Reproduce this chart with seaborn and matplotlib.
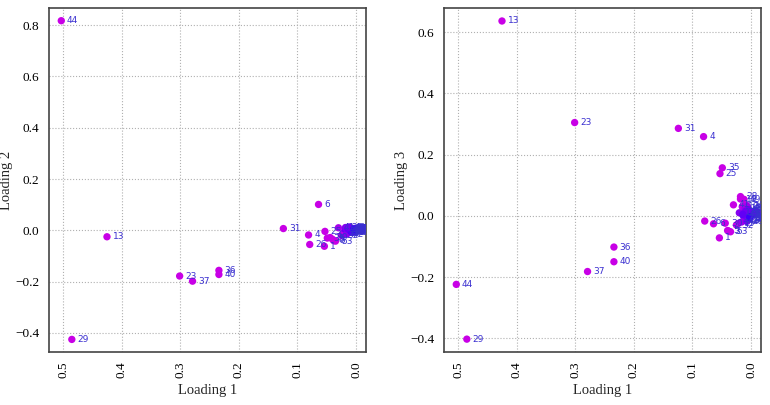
import numpy as np
import pandas as pd
import matplotlib
matplotlib.use("Agg")
import matplotlib.pyplot as plt
import seaborn as sns

# variable ids and loadings (cluster near 0 estimated)
ids = [1, 2, 3, 4, 5, 6, 7, 8, 9, 10, 11, 12, 13, 14, 15, 16, 17, 18, 19, 20,
       21, 22, 23, 24, 25, 26, 27, 28, 29, 30, 31, 32, 33, 34, 35, 36, 37, 38,
       39, 40, 41, 42, 43, 44, 45, 46, 47, 48, 49, 50, 51, 52, 53, 54, 55]
loading1 = [0.054, 0.012, 0.038, 0.081, 0.040, 0.064, 0.006, 0.009, 0.004, 0.015,
            0.002, 0.020, 0.425, 0.007, 0.022, 0.003, 0.010, 0.001, 0.018, 0.005,
            0.013, -0.002, 0.301, 0.008, 0.053, 0.079, 0.011, 0.018, 0.485, 0.044,
            0.124, 0.025, 0.000, 0.006, 0.049, 0.234, 0.279, 0.003, -0.004, 0.234,
            0.030, 0.016, 0.009, 0.503, -0.006, 0.001, 0.014, 0.007, 0.012, -0.008,
            0.004, -0.010, 0.035, 0.002, -0.005]
loading2 = [-0.062, 0.004, -0.040, -0.018, -0.035, 0.101, 0.002, -0.006, 0.001, -0.010,
            0.003, -0.005, -0.025, -0.002, -0.012, 0.005, 0.008, -0.001, 0.002, 0.004,
            -0.008, 0.006, -0.178, 0.009, -0.004, -0.055, 0.001, 0.011, -0.425, -0.028,
            0.007, -0.020, 0.002, 0.007, -0.030, -0.156, -0.198, -0.004, 0.003, -0.172,
            0.010, -0.015, -0.003, 0.817, 0.004, 0.008, 0.006, -0.008, 0.013, 0.002,
            0.006, 0.001, -0.042, -0.002, 0.005]
loading3 = [-0.072, 0.010, -0.050, 0.259, -0.048, -0.026, 0.005, 0.018, -0.004, 0.030,
            0.012, 0.010, 0.637, -0.015, -0.025, 0.002, 0.025, 0.006, 0.055, -0.008,
            0.000, 0.008, 0.305, 0.035, 0.138, -0.017, -0.012, 0.063, -0.403, -0.024,
            0.286, -0.030, 0.003, 0.030, 0.157, -0.102, -0.182, -0.010, 0.004, -0.150,
            0.036, -0.020, 0.015, -0.224, 0.010, -0.002, 0.005, -0.018, 0.054, 0.006,
            0.020, 0.012, -0.052, -0.006, 0.015]

df = pd.DataFrame({"id": ids, "Loading 1": loading1,
                   "Loading 2": loading2, "Loading 3": loading3})

sns.set_style("white")
plt.rcParams["font.family"] = ["Liberation Serif", "DejaVu Serif"]

cmap = sns.blend_palette(["#2200ff", "#c800e6"], as_cmap=True)

fig = plt.figure(figsize=(7.7, 4.05), dpi=100)
ax1 = fig.add_axes([0.0636, 0.1309, 0.4117, 0.849])
ax2 = fig.add_axes([0.5766, 0.1309, 0.4117, 0.849])


def panel(ax, ycol, ylim, yticks):
    d = df.copy()
    d["dist"] = np.abs(d["Loading 1"]) + np.abs(d[ycol])
    sns.scatterplot(data=d, x="Loading 1", y=ycol, hue="dist", palette=cmap,
                    hue_norm=(0.0, 0.05), s=28, linewidth=0, legend=False,
                    ax=ax, zorder=3)
    for _, r in d.iterrows():
        ax.annotate(str(int(r["id"])), (r["Loading 1"], r[ycol]),
                    xytext=(4, 0), textcoords="offset points", va="center",
                    ha="left", fontsize=6.5, color="#3a2fd0",
                    family="DejaVu Sans", zorder=4, clip_on=True)
    ax.set_xlim(0.524, -0.017)
    ax.set_ylim(*ylim)
    ax.set_xticks([0.5, 0.4, 0.3, 0.2, 0.1, 0.0])
    ax.set_yticks(yticks)
    ax.grid(True, linestyle=":", color="#b0b0b0", linewidth=0.8)
    ax.tick_params(axis="both", direction="out", length=5, width=0.8, pad=2,
                   colors="#333333", labelsize=9.5, labelcolor="black")
    ax.tick_params(axis="x", labelrotation=90)
    for s in ax.spines.values():
        s.set_color("#444444")
        s.set_linewidth(1.2)
    ax.set_xlabel("Loading 1", fontsize=10.5, labelpad=4)
    ax.set_ylabel(ycol, fontsize=10.5)
    ax.yaxis.set_label_coords(-0.114, 0.5)


panel(ax1, "Loading 2", (-0.474, 0.866), [-0.4, -0.2, 0.0, 0.2, 0.4, 0.6, 0.8])
panel(ax2, "Loading 3", (-0.445, 0.679), [-0.4, -0.2, 0.0, 0.2, 0.4, 0.6])

fig.savefig("out.png", dpi=100)
